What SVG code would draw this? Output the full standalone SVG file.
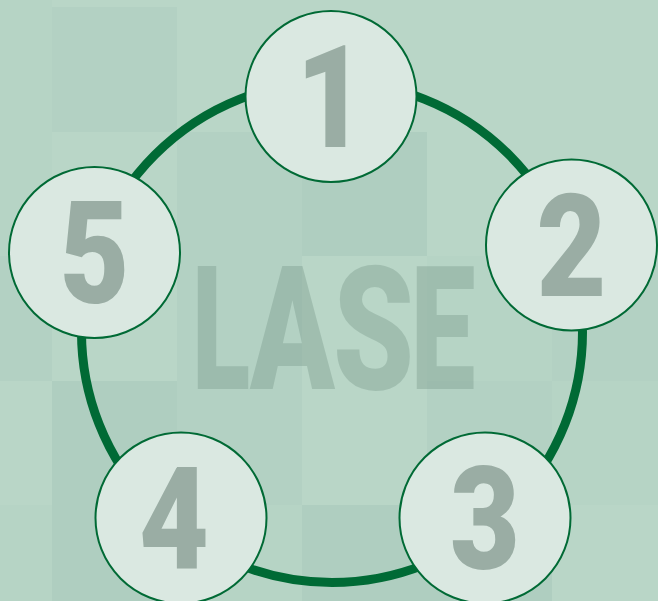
<svg xmlns="http://www.w3.org/2000/svg" width="658" height="601" viewBox="0 0 658 601">
<style>
.m{fill:#b6d4c5}
.m2{fill:#b3d1c3}
.d{fill:#afcec0}
.ring{fill:none;stroke:#006a35;stroke-width:9}
.node circle{fill:#dae8e1;stroke:#006a35;stroke-width:2}
.num{font-family:Roboto,"Liberation Sans",sans-serif;font-weight:900;font-size:142px;fill:#9aada4;text-anchor:middle}
.wm{font-family:Roboto,"Liberation Sans",sans-serif;font-weight:900;font-size:173px;fill:#6e8e80;text-anchor:middle}
</style>
<g id="background">
<rect width="658" height="601" fill="#b9d6c7"/>
<rect class="m" x="0" y="0" width="52" height="256"/>
<rect class="m2" x="52" y="7" width="125" height="125"/>
<rect class="m2" x="177" y="132" width="125" height="124"/>
<rect class="d" x="302" y="132" width="125" height="124"/>
<rect class="m2" x="0" y="256" width="52" height="125"/>
<rect class="m2" x="177" y="256" width="125" height="125"/>
<rect class="m" x="427" y="256" width="125" height="125"/>
<rect class="m2" x="552" y="256" width="106" height="125"/>
<rect class="d" x="52" y="381" width="125" height="124"/>
<rect class="m2" x="177" y="381" width="125" height="124"/>
<rect class="m2" x="427" y="381" width="125" height="124"/>
<rect class="m" x="552" y="381" width="106" height="124"/>
<rect class="m" x="0" y="505" width="52" height="96"/>
<rect class="d" x="52" y="505" width="125" height="96"/>
<rect class="m" x="177" y="505" width="125" height="96"/>
<rect class="d" x="302" y="505" width="125" height="96"/>
<rect class="d" x="427" y="505" width="125" height="96"/>
</g>
<g id="watermark" opacity="0.32">
<text class="wm" transform="translate(221,389) scale(0.62,1)">L</text>
<text class="wm" transform="translate(292.5,389) scale(0.72,1)">A</text>
<text class="wm" transform="translate(373.5,389) scale(0.75,1)">S</text>
<text class="wm" transform="translate(443,389) scale(0.67,1)">E</text>
</g>
<g id="connectors">
<circle class="ring" cx="332" cy="332" r="250.5"/>
</g>
<g id="node1" class="node">
<circle cx="331" cy="96.5" r="85.5"/>
<text class="num" transform="translate(331,147) scale(0.85,1)">1</text>
</g>
<g id="node2" class="node">
<circle cx="571.5" cy="245" r="85.5"/>
<text class="num" transform="translate(571.5,296) scale(0.85,1)">2</text>
</g>
<g id="node3" class="node">
<circle cx="485" cy="518" r="85.5"/>
<text class="num" transform="translate(485,569) scale(0.85,1)">3</text>
</g>
<g id="node4" class="node">
<circle cx="181" cy="518" r="85.5"/>
<text class="num" transform="translate(174,569) scale(0.85,1)">4</text>
</g>
<g id="node5" class="node">
<circle cx="94.5" cy="252.5" r="85.5"/>
<text class="num" transform="translate(94.5,303) scale(0.85,1)">5</text>
</g>
</svg>
